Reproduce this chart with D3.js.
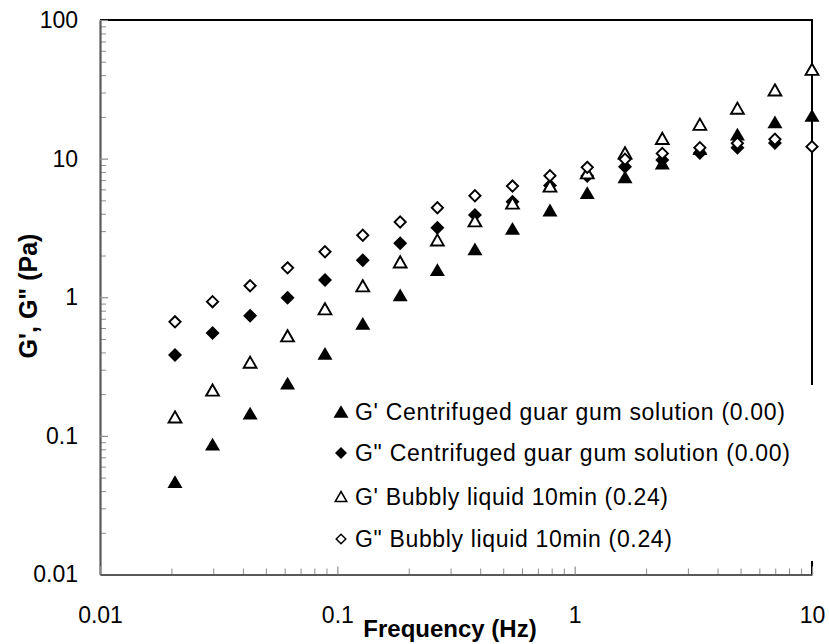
<!DOCTYPE html>
<html><head><meta charset="utf-8">
<script src="https://cdn.jsdelivr.net/npm/d3@7"></script>
<style>
body{margin:0;background:#fff}
text{font-family:"Liberation Sans",Arial,sans-serif;fill:#000}
</style>
</head><body>
<svg id="chart" width="829" height="644"></svg>
<script>
// ---- data ----
const frequency = [0.0207, 0.0298, 0.0429, 0.0617, 0.0887, 0.128, 0.184, 0.264, 0.380, 0.547, 0.787, 1.13, 1.63, 2.34, 3.37, 4.85, 6.98, 10.0];
const gPrimeCentrifuged = [0.0467, 0.0873, 0.146, 0.240, 0.394, 0.648, 1.04, 1.58, 2.23, 3.14, 4.26, 5.68, 7.40, 9.29, 11.8, 15.0, 18.4, 20.5];
const gDoublePrimeCentrifuged = [0.383, 0.552, 0.736, 0.991, 1.33, 1.85, 2.45, 3.17, 3.92, 4.89, 6.40, 7.48, 8.75, 9.77, 11.0, 12.0, 12.96, null];
const gPrimeBubbly = [0.137, 0.214, 0.340, 0.527, 0.826, 1.21, 1.80, 2.59, 3.56, 4.78, 6.34, 7.9, 11.0, 14.0, 17.7, 23.1, 31.3, 44.1];
const gDoublePrimeBubbly = [0.665, 0.929, 1.21, 1.63, 2.13, 2.80, 3.49, 4.42, 5.40, 6.34, 7.53, 8.65, 9.89, 10.9, 12.0, 12.9, 13.8, 12.2];
const seriesNames = [
  "G' Centrifuged guar gum solution (0.00)",
  'G" Centrifuged guar gum solution (0.00)',
  "G' Bubbly liquid 10min (0.24)",
  'G" Bubbly liquid 10min (0.24)'
];
const xTickValues = [0.01, 0.1, 1, 10];
const xTickLabels = ["0.01", "0.1", "1", "10"];
const yTickValues = [0.01, 0.1, 1, 10, 100];
const yTickLabels = ["0.01", "0.1", "1", "10", "100"];
const xTitle = "Frequency (Hz)";
const yTitle = 'G\', G" (Pa)';

// ---- layout ----
const L = 100, R = 812, T = 20, B = 574.5;
const svg = d3.select("#chart");
const x = d3.scaleLog().domain([0.01, 10]).range([L, R]);
const y = d3.scaleLog().domain([0.01, 100]).range([B, T]);

function minorTicks(dom) {
  const out = [];
  for (let e = Math.log10(dom[0]); e < Math.log10(dom[1]); e++) {
    for (let k = 2; k <= 9; k++) out.push(k * Math.pow(10, e));
  }
  return out;
}

// minor ticks
svg.append("g").attr("transform", `translate(${L},0)`)
  .call(d3.axisLeft(y).tickValues(minorTicks(y.domain())).tickSizeInner(-6).tickSizeOuter(0).tickFormat(""))
  .call(g => g.select(".domain").remove())
  .call(g => g.selectAll("line").attr("stroke", "#8c8c8c").attr("stroke-width", 1));
svg.append("g").attr("transform", `translate(0,${B})`)
  .call(d3.axisBottom(x).tickValues(minorTicks(x.domain())).tickSizeInner(-6).tickSizeOuter(0).tickFormat(""))
  .call(g => g.select(".domain").remove())
  .call(g => g.selectAll("line").attr("stroke", "#8c8c8c").attr("stroke-width", 1));

// plot border (top + right, black), legend will cover part of right side
svg.append("path")
  .attr("d", `M${L},${T}H${R}V${B}`)
  .attr("fill", "none").attr("stroke", "#000").attr("stroke-width", 2);

// major axes
const yAxis = svg.append("g").attr("transform", `translate(${L},0)`)
  .call(d3.axisLeft(y).tickValues(yTickValues).tickSizeInner(-8).tickSizeOuter(0).tickPadding(22)
    .tickFormat((d, i) => yTickLabels[i]));
yAxis.select(".domain").attr("stroke", "#595959").attr("stroke-width", 2.2);
yAxis.selectAll("line").attr("stroke", "#8c8c8c").attr("stroke-width", 1.2);
yAxis.selectAll("text").attr("font-size", 23).attr("font-family", '"Liberation Sans",Arial,sans-serif').attr("fill", "#000");

const xAxis = svg.append("g").attr("transform", `translate(0,${B})`)
  .call(d3.axisBottom(x).tickValues(xTickValues).tickSizeInner(-8).tickSizeOuter(0).tickPadding(32)
    .tickFormat((d, i) => xTickLabels[i]));
xAxis.select(".domain").attr("stroke", "#595959").attr("stroke-width", 2.2);
xAxis.selectAll("line").attr("stroke", "#8c8c8c").attr("stroke-width", 1.2);
xAxis.selectAll("text").attr("font-size", 23).attr("font-family", '"Liberation Sans",Arial,sans-serif').attr("fill", "#000");

// axis titles
svg.append("text").attr("x", 450).attr("y", 637).attr("text-anchor", "middle")
  .attr("font-size", 24).attr("font-weight", "bold").text(xTitle);
svg.append("text").attr("transform", "translate(37,296) rotate(-90)").attr("text-anchor", "middle")
  .attr("font-size", 25).attr("font-weight", "bold").text(yTitle);

// ---- markers ----
function triPath(hw, hh) { return `M0,${-hh}L${hw},${hh}L${-hw},${hh}Z`; }
function diaPath(hw, hh) { return `M0,${-hh}L${hw},0L0,${hh}L${-hw},0Z`; }
const styles = [
  { d: triPath(7.5, 6.4), fill: "#000", stroke: "none", sw: 0 },
  { d: diaPath(7, 7), fill: "#000", stroke: "none", sw: 0 },
  { d: triPath(6.4, 5.6), fill: "#fff", stroke: "#000", sw: 1.9 },
  { d: diaPath(5.6, 5.6), fill: "#fff", stroke: "#000", sw: 1.9 }
];
const legendStyles = [
  { d: triPath(7.5, 6.2), fill: "#000", stroke: "none", sw: 0 },
  { d: diaPath(6, 6), fill: "#000", stroke: "none", sw: 0 },
  { d: triPath(5.8, 5), fill: "#fff", stroke: "#000", sw: 1.5 },
  { d: diaPath(4.8, 4.8), fill: "#fff", stroke: "#000", sw: 1.5 }
];
const series = [gPrimeCentrifuged, gDoublePrimeCentrifuged, gPrimeBubbly, gDoublePrimeBubbly];

// legend box (white, covers right border)
const legendRows = [411.5, 453, 496.5, 539];
const legendWidths = [430, 435, 313, 317];
svg.append("rect").attr("x", 326).attr("y", 385).attr("width", 492).attr("height", 176).attr("fill", "#fff");

series.forEach((vals, si) => {
  const st = styles[si];
  svg.append("g").selectAll("path")
    .data(frequency.map((f, i) => ({ f, v: vals[i] })).filter(d => d.v != null))
    .join("path")
    .attr("d", st.d)
    .attr("transform", d => `translate(${x(d.f)},${y(d.v)})`)
    .attr("fill", st.fill).attr("stroke", st.stroke).attr("stroke-width", st.sw)
    .attr("stroke-linejoin", "miter");
});

const leg = svg.append("g");
seriesNames.forEach((name, i) => {
  const st = legendStyles[i];
  leg.append("path").attr("d", st.d).attr("transform", `translate(341,${legendRows[i]})`)
    .attr("fill", st.fill).attr("stroke", st.stroke).attr("stroke-width", st.sw);
  leg.append("text").attr("x", 355).attr("y", legendRows[i]).attr("dy", "0.36em")
    .attr("font-size", 23).attr("textLength", legendWidths[i]).attr("lengthAdjust", "spacing")
    .text(name);
});
</script>
</body></html>
